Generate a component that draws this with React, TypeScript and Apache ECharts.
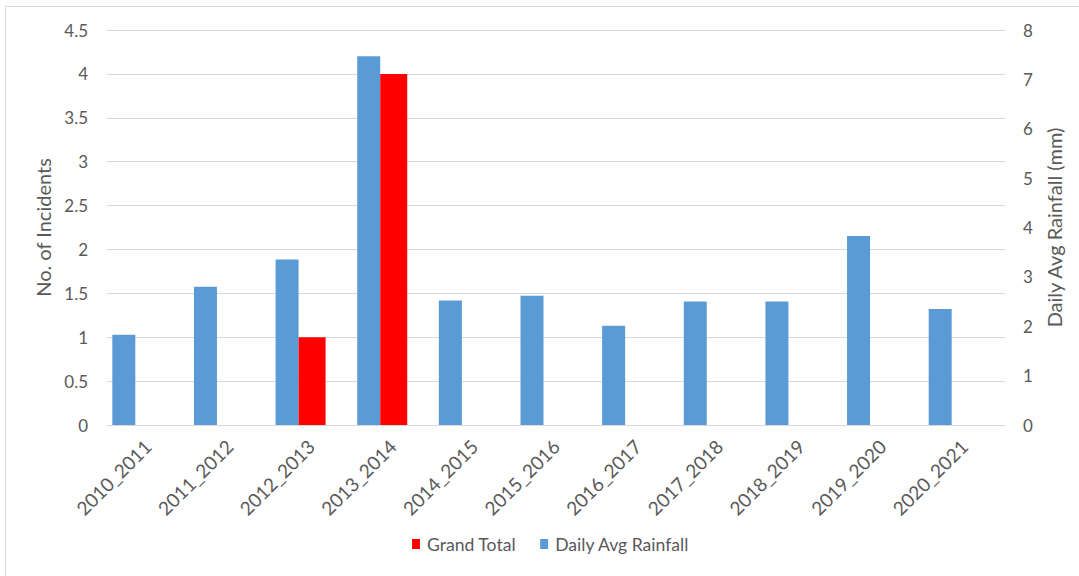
import React, { useEffect, useRef } from "react";
import * as echarts from "echarts";

// Seasons along the category axis
const seasons = [
  "2010_2011",
  "2011_2012",
  "2012_2013",
  "2013_2014",
  "2014_2015",
  "2015_2016",
  "2016_2017",
  "2017_2018",
  "2018_2019",
  "2019_2020",
  "2020_2021",
];

// Incident counts (left axis)
const grandTotal: (number | null)[] = [null, null, 1, 4, null, null, null, null, null, null, null];

// Daily average rainfall in mm (right axis)
const dailyAvgRainfall = [1.83, 2.8, 3.35, 7.47, 2.52, 2.62, 2.01, 2.5, 2.5, 3.83, 2.35];

// Left and right axis ticks
const incidentTicks = { min: 0, max: 4.5, interval: 0.5 };
const rainfallTicks = { min: 0, max: 8, interval: 1 };

const FONT = "Lato, 'Open Sans', sans-serif";
const TEXT = "#595959";
const GRID = "#d9d9d9";

export default function App() {
  const ref = useRef<HTMLDivElement>(null);

  useEffect(() => {
    if (!ref.current) return;
    const chart = echarts.init(ref.current, undefined, { renderer: "svg" });
    chart.setOption({
      animation: false,
      backgroundColor: "#ffffff",
      textStyle: { fontFamily: FONT, color: TEXT },
      graphic: [
        {
          type: "rect",
          shape: { x: 5.5, y: 6.5, width: 1200, height: 700 },
          style: { fill: "none", stroke: GRID, lineWidth: 1 },
          silent: true,
        },
      ],
      grid: { left: 107, right: 74, top: 30, bottom: 151, containLabel: false },
      legend: {
        data: ["Grand Total", "Daily Avg Rainfall"],
        bottom: 18,
        left: 407,
        itemWidth: 8,
        itemHeight: 10,
        itemGap: 24,
        icon: "rect",
        textStyle: { fontFamily: FONT, fontSize: 17.6, color: TEXT, padding: [0, 0, 0, 2] },
      },
      xAxis: {
        type: "category",
        data: seasons,
        axisLine: { lineStyle: { color: GRID, width: 1 } },
        axisTick: { show: false },
        axisLabel: {
          rotate: 45,
          interval: 0,
          margin: 18,
          fontFamily: FONT,
          fontSize: 19,
          color: TEXT,
        },
      },
      yAxis: [
        {
          type: "value",
          min: incidentTicks.min,
          max: incidentTicks.max,
          interval: incidentTicks.interval,
          name: "No. of Incidents",
          nameLocation: "middle",
          nameGap: 51,
          nameTextStyle: { fontFamily: FONT, fontSize: 20, color: TEXT },
          axisLine: { show: false },
          axisTick: { show: false },
          axisLabel: { margin: 19, fontFamily: FONT, fontSize: 17, color: TEXT },
          splitLine: { lineStyle: { color: GRID, width: 1 } },
        },
        {
          type: "value",
          min: rainfallTicks.min,
          max: rainfallTicks.max,
          interval: rainfallTicks.interval,
          name: "Daily Avg Rainfall (mm)",
          nameLocation: "middle",
          nameGap: 37,
          nameTextStyle: { fontFamily: FONT, fontSize: 20, color: TEXT },
          axisLine: { show: false },
          axisTick: { show: false },
          axisLabel: { margin: 18, fontFamily: FONT, fontSize: 17, color: TEXT },
          splitLine: { show: false },
        },
      ],
      series: [
        {
          name: "Daily Avg Rainfall",
          type: "bar",
          yAxisIndex: 1,
          data: dailyAvgRainfall,
          barWidth: 23,
          barGap: "0%",
          itemStyle: { color: "#5b9bd5" },
        },
        {
          name: "Grand Total",
          type: "bar",
          yAxisIndex: 0,
          data: grandTotal,
          barWidth: 27,
          barGap: "0%",
          itemStyle: { color: "#ff0000" },
        },
        {
          // empty slot that keeps the pair left of the category centre
          name: "spacer",
          type: "bar",
          yAxisIndex: 0,
          data: seasons.map(() => null),
          barWidth: 21,
          barGap: "0%",
          silent: true,
          itemStyle: { color: "transparent" },
        },
      ],
    });
    return () => chart.dispose();
  }, []);

  return (
    <div
      ref={ref}
      style={{ position: "fixed", left: 0, top: 0, width: 1079, height: 576, background: "#fff" }}
    />
  );
}
